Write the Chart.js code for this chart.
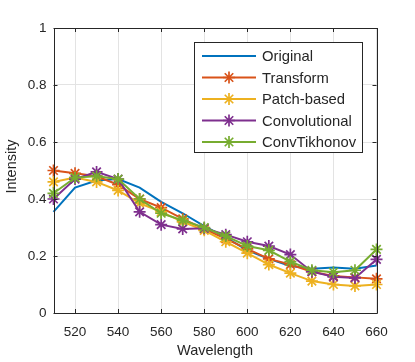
<!DOCTYPE html>
<html>
<head>
<meta charset="utf-8">
<script src="https://cdn.jsdelivr.net/npm/chart.js@4.4.1/dist/chart.umd.min.js"></script>
<style>
html,body{margin:0;padding:0;background:#fff;}
#wrap{width:415px;height:362px;position:relative;}
</style>
</head>
<body>
<div id="wrap"><canvas id="c" width="415" height="362"></canvas></div>
<script>
const wavelengths = [510,520,530,540,550,560,570,580,590,600,610,620,630,640,650,660];
const original     = [0.355,0.44,0.465,0.47,0.44,0.39,0.35,0.305,0.265,0.22,0.19,0.165,0.155,0.16,0.155,0.167];
const transform    = [0.50,0.49,0.48,0.45,0.40,0.37,0.33,0.295,0.26,0.225,0.19,0.17,0.145,0.13,0.125,0.12];
const patchBased   = [0.46,0.475,0.46,0.43,0.385,0.355,0.32,0.29,0.25,0.21,0.17,0.14,0.112,0.10,0.095,0.10];
const convolutional= [0.40,0.47,0.495,0.47,0.355,0.31,0.295,0.297,0.275,0.25,0.235,0.205,0.145,0.127,0.123,0.188];
const convTikhonov = [0.42,0.475,0.48,0.47,0.40,0.35,0.325,0.30,0.27,0.235,0.22,0.18,0.15,0.143,0.15,0.223];
const seriesNames  = ['Original','Transform','Patch-based','Convolutional','ConvTikhonov'];
const seriesColors = ['#0072BD','#D95319','#EDB120','#7E2F8E','#77AC30'];
const xTicks = [520,540,560,580,600,620,640,660];
const yTicks = [0,0.2,0.4,0.6,0.8,1];
const xTitle = 'Wavelength';
const yTitle = 'Intensity';

const FONT = '"Liberation Sans", Arial, Helvetica, sans-serif';
const TXT = '#262626';

const allSeries = [original, transform, patchBased, convolutional, convTikhonov];
const datasets = allSeries.map((vals, i) => ({
  label: seriesNames[i],
  data: wavelengths.map((w, j) => ({x: w, y: vals[j]})),
  borderColor: seriesColors[i],
  backgroundColor: seriesColors[i],
  borderWidth: 2,
  pointStyle: i === 0 ? false : 'star',
  pointRadius: i === 0 ? 0 : 6,
  pointBorderWidth: 1.7,
  pointBorderColor: seriesColors[i],
  tension: 0,
  clip: false,
  order: allSeries.length - 1 - i
}));

const framePlugin = {
  id: 'frame',
  afterDraw(chart) {
    const ctx = chart.ctx;
    const a = chart.chartArea;
    const xs = chart.scales.x, ys = chart.scales.y;
    ctx.save();
    ctx.strokeStyle = TXT;
    ctx.lineWidth = 1;
    ctx.beginPath();
    ctx.rect(Math.round(a.left)+0.5, Math.round(a.top)+0.5, Math.round(a.right-a.left), Math.round(a.bottom-a.top));
    ctx.stroke();
    const tl = 4;
    ctx.beginPath();
    xTicks.forEach(t => {
      const px = Math.round(xs.getPixelForValue(t)) + 0.5;
      ctx.moveTo(px, a.bottom); ctx.lineTo(px, a.bottom - tl);
      ctx.moveTo(px, a.top); ctx.lineTo(px, a.top + tl);
    });
    yTicks.forEach(t => {
      const py = Math.round(ys.getPixelForValue(t)) + 0.5;
      ctx.moveTo(a.left, py); ctx.lineTo(a.left + tl, py);
      ctx.moveTo(a.right, py); ctx.lineTo(a.right - tl, py);
    });
    ctx.stroke();

    // titles
    ctx.fillStyle = TXT;
    ctx.font = '14.5px ' + FONT;
    ctx.textAlign = 'center';
    ctx.textBaseline = 'middle';
    ctx.fillText(xTitle, (a.left + a.right) / 2, 351);
    ctx.save();
    ctx.translate(12, (a.top + a.bottom) / 2 - 4);
    ctx.rotate(-Math.PI / 2);
    ctx.fillText(yTitle, 0, 0);
    ctx.restore();

    // legend
    const bx = 194.5, by = 42.5, bw = 168, bh = 110;
    ctx.fillStyle = '#fff';
    ctx.fillRect(bx, by, bw, bh);
    ctx.strokeStyle = TXT;
    ctx.lineWidth = 1;
    ctx.strokeRect(bx, by, bw, bh);
    chart.data.datasets.forEach((ds, i) => {
      const y = 56 + i * 21.5;
      ctx.strokeStyle = ds.borderColor;
      ctx.lineWidth = 2;
      ctx.beginPath();
      ctx.moveTo(202, y); ctx.lineTo(256, y);
      ctx.stroke();
      if (ds.pointStyle) {
        ctx.lineWidth = 1.7;
        Chart.helpers.drawPoint(ctx, {pointStyle: 'star', radius: 6, rotation: 0, borderWidth: 1.7}, 229, y);
      }
      ctx.fillStyle = TXT;
      ctx.font = '14.8px ' + FONT;
      ctx.textAlign = 'left';
      ctx.textBaseline = 'middle';
      ctx.fillText(ds.label, 262, y + 1);
    });
    ctx.restore();
  }
};

new Chart(document.getElementById('c'), {
  type: 'line',
  data: { datasets },
  options: {
    responsive: false,
    animation: false,
    devicePixelRatio: 1,
    layout: { padding: { left: 0, top: 28, right: 38.5, bottom: 0 } },
    plugins: { legend: { display: false }, tooltip: { enabled: false } },
    scales: {
      x: {
        type: 'linear',
        min: 510, max: 660,
        afterBuildTicks: s => { s.ticks = xTicks.map(v => ({value: v})); },
        afterFit: s => { s.height = 49; },
        grid: { color: '#e3e3e3', drawTicks: false, lineWidth: 1 },
        border: { display: false },
        ticks: { color: TXT, font: { family: FONT, size: 13.5 }, padding: 11, maxRotation: 0, autoSkip: false,
                 callback: v => String(v) }
      },
      y: {
        min: 0, max: 1,
        afterBuildTicks: s => { s.ticks = yTicks.map(v => ({value: v})); },
        afterFit: s => { s.width = 53.5; },
        grid: { color: '#e3e3e3', drawTicks: false, lineWidth: 1 },
        border: { display: false },
        ticks: { color: TXT, font: { family: FONT, size: 13.5 }, padding: 7, autoSkip: false,
                 callback: v => String(Math.round(v * 10) / 10) }
      }
    }
  },
  plugins: [framePlugin]
});
</script>
</body>
</html>
